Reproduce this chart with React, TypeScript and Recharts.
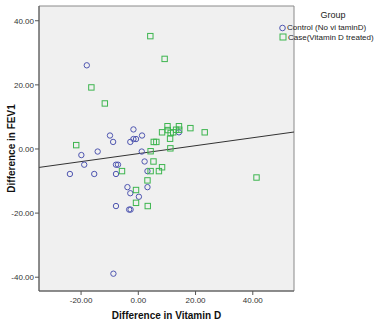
import { ScatterChart, Scatter, XAxis, YAxis, ReferenceArea, ReferenceLine } from "recharts";

// Control group (No vitamin D): [diff vitamin D, diff FEV1]
const controlX = [-18.0, -9.9, -8.8, -1.7, -2.8, -1.7, -0.8, 1.3, -19.9, -18.9, -14.2, -7.8, -7.1, 1.2, 2.2, 14.2, -23.9, -15.4, -7.8, 3.2, -3.8, -2.8, 0.2, 3.2, -7.8, -3.2, -2.7, -8.7];
const controlY = [26.1, 4.2, 2.2, 6.1, 2.2, 3.1, 3.1, 4.2, -1.9, -4.9, -0.8, -4.9, -4.9, -0.8, -3.9, 5.2, -7.8, -7.8, -7.8, -6.9, -11.9, -13.8, -14.9, -11.9, -17.8, -18.9, -18.9, -38.9];

// Case group (Vitamin D treated)
const caseX = [4.2, 9.2, -16.4, -11.7, -21.7, 10.2, 14.2, 18.2, 23.2, 8.3, 10.3, 11.3, 12.2, 13.2, 14.3, 11.1, 5.4, 6.3, 11.2, 4.3, 5.3, -5.7, 4.3, 7.2, 8.3, 3.2, -0.8, -0.8, 3.3, 41.3];
const caseY = [35.2, 28.1, 19.2, 14.2, 1.2, 7.1, 7.1, 6.5, 5.2, 5.2, 5.9, 5.0, 5.2, 6.0, 6.0, 3.2, 2.2, 2.2, 0.2, -0.7, -3.9, -6.9, -6.9, -6.9, -5.7, -9.8, -12.8, -16.8, -17.8, -8.9];

const xTicks = [-20, 0, 20, 40];
const yTicks = [-40, -20, 0, 20, 40];
const xDomain = [-34.7, 54.4];
const yDomain = [-44.3, 44.6];

// fit line
const fitIntercept = -1.45;
const fitSlope = 0.124;

const controlData = controlX.map((x, i) => ({ x, y: controlY[i] }));
const caseData = caseX.map((x, i) => ({ x, y: caseY[i] }));

const BLUE = "#4f56b0";
const GREEN = "#3db54f";
const FONT = "'Liberation Sans', Arial, sans-serif";

const CircleMark = (p: any) => <circle cx={p.cx} cy={p.cy} r={2.7} fill="none" stroke={BLUE} strokeWidth={1} />;
const SquareMark = (p: any) => <rect x={p.cx - 2.7} y={p.cy - 2.7} width={5.4} height={5.4} fill="none" stroke={GREEN} strokeWidth={1} />;

export default function App() {
  const tick = { fontSize: 8, fill: "#333", fontFamily: FONT };
  return (
    <div style={{ position: "absolute", left: 0, top: 0, width: 382, height: 325, background: "#fff" }}>
      <ScatterChart width={382} height={325} margin={{ top: 6, right: 88, bottom: 0, left: 0 }}>
        <ReferenceArea x1={xDomain[0]} x2={xDomain[1]} y1={yDomain[0]} y2={yDomain[1]} fill="#f0f0f0" fillOpacity={1} stroke="#8a8a8a" strokeWidth={1} />
        <XAxis
          type="number" dataKey="x" domain={xDomain} ticks={xTicks} allowDataOverflow
          tickFormatter={(v: number) => v.toFixed(2)} tick={tick} tickSize={4} tickMargin={2}
          axisLine={{ stroke: "#555" }} tickLine={{ stroke: "#555" }} height={34}
          label={{ value: "Difference in Vitamin D", position: "insideBottom", offset: 6, style: { fontSize: 10, fontWeight: "bold", fill: "#111", fontFamily: FONT } }}
        />
        <YAxis
          type="number" dataKey="y" domain={yDomain} ticks={yTicks} allowDataOverflow
          tickFormatter={(v: number) => v.toFixed(2)} tick={tick} tickSize={4} tickMargin={1}
          axisLine={{ stroke: "#555" }} tickLine={{ stroke: "#555" }} width={39}
          label={{ value: "Difference in FEV1", angle: -90, position: "insideLeft", offset: 11, style: { fontSize: 10, fontWeight: "bold", fill: "#111", fontFamily: FONT, textAnchor: "middle" } }}
        />
        <ReferenceLine
          segment={[
            { x: xDomain[0], y: fitIntercept + fitSlope * xDomain[0] },
            { x: xDomain[1], y: fitIntercept + fitSlope * xDomain[1] },
          ]}
          stroke="#333" strokeWidth={1}
        />
        <Scatter data={controlData} shape={CircleMark} isAnimationActive={false} />
        <Scatter data={caseData} shape={SquareMark} isAnimationActive={false} />
      </ScatterChart>
      <div style={{ position: "absolute", left: 278, top: 9, width: 104, fontFamily: FONT, fontSize: 8, color: "#222" }}>
        <div style={{ textAlign: "center", fontSize: 9, marginLeft: 6, lineHeight: "12px" }}>Group</div>
        <div style={{ display: "flex", alignItems: "center", height: 9.5, marginTop: 2 }}>
          <svg width={8} height={8} style={{ flex: "none" }}><circle cx={4.5} cy={4} r={2.8} fill="none" stroke={BLUE} /></svg>
          <span style={{ marginLeft: 1, whiteSpace: "nowrap" }}>Control (No vi taminD)</span>
        </div>
        <div style={{ display: "flex", alignItems: "center", height: 9.5 }}>
          <svg width={9} height={8} style={{ flex: "none" }}><rect x={2} y={1} width={6} height={6} fill="none" stroke={GREEN} /></svg>
          <span style={{ marginLeft: 1, whiteSpace: "nowrap" }}>Case(Vitamin D treated)</span>
        </div>
      </div>
    </div>
  );
}
